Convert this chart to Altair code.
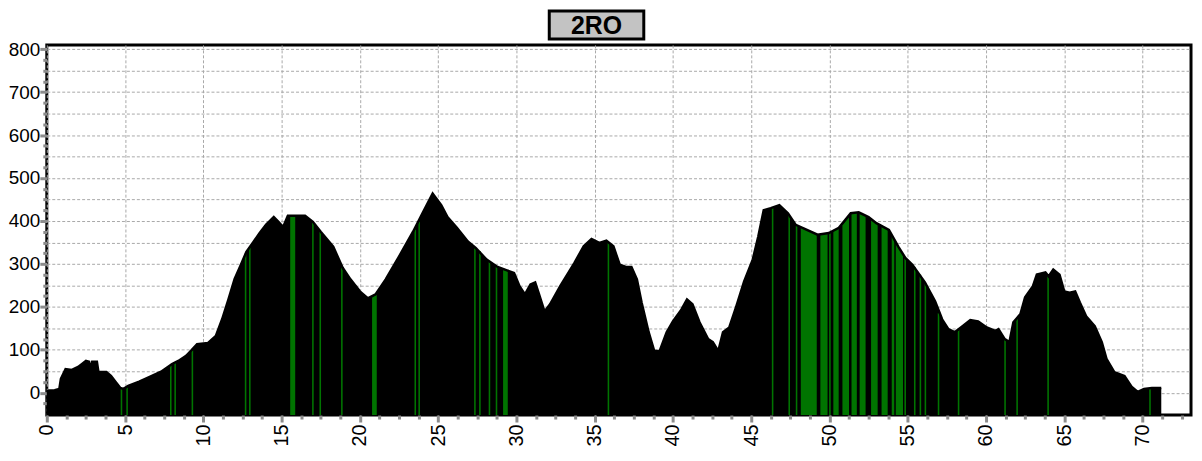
import altair as alt
import pandas as pd

TITLE = "2RO"

# elevation profile (km, m)
prof_km = [0.0, 0.15, 0.5, 0.8, 0.9, 1.2, 1.6, 2.0, 2.25, 2.5, 2.7, 2.8, 2.9, 3.2, 3.3, 3.8, 4.1, 4.4,
           4.7, 4.9, 5.2, 5.9, 6.5, 7.3, 8.0, 8.4, 8.9, 9.25, 9.6, 10.3, 10.8, 11.2, 11.6, 12.0, 12.4,
           12.75, 13.2, 13.6, 14.0, 14.5, 14.8, 15.1, 15.4, 16.5, 17.0, 17.5, 18.3, 18.9, 19.4, 20.0,
           20.5, 21.0, 21.65, 22.5, 23.4, 24.0, 24.65, 25.2, 25.6, 26.2, 26.9, 27.4, 28.1, 28.8, 29.4,
           29.85, 30.2, 30.55, 30.9, 31.2, 31.45, 31.8, 32.15, 32.8, 33.7, 34.3, 34.8, 35.3, 35.75,
           36.2, 36.6, 37.0, 37.35, 37.7, 38.0, 38.45, 38.8, 39.15, 39.6, 40.0, 40.55, 40.9, 41.25,
           41.7, 42.25, 42.55, 42.9, 43.2, 43.6, 44.05, 44.55, 45.1, 45.45, 45.8, 46.25, 46.8, 47.35,
           47.85, 49.24, 49.96, 50.6, 51.36, 51.87, 52.5, 53.0, 53.8, 54.4, 54.85, 55.3, 56.1, 56.75,
           57.2, 57.6, 58.0, 58.5, 59.0, 59.5, 60.05, 60.6, 60.8, 61.2, 61.5, 61.75, 62.2, 62.5, 63.0,
           63.25, 63.8, 64.0, 64.3, 64.7, 65.0, 65.35, 65.7, 66.0, 66.4, 66.95, 67.4, 67.7, 68.2,
           68.85, 69.3, 69.7, 70.1, 70.6, 71.2]
prof_elev = [3, 5, 6, 9, 32, 55, 53, 60, 67, 74, 72, 51, 72, 72, 48, 48, 39, 25,
             11, 9, 16, 26, 36, 49, 67, 74, 86, 99, 113, 116, 132, 171, 217, 265, 298,
             328, 351, 372, 391, 409, 398, 386, 412, 412, 398, 375, 340, 291, 264, 236,
             220, 229, 264, 317, 375, 418, 464, 437, 409, 384, 352, 337, 310, 293, 285,
             279, 248, 229, 252, 257, 229, 189, 206, 248, 302, 341, 358, 349, 354,
             341, 298, 293, 293, 264, 210, 141, 98, 97, 141, 166, 194, 217, 206,
             164, 125, 118, 97, 141, 152, 201, 259, 310, 363, 425, 430, 437, 418,
             391, 368, 372, 384, 418, 420, 409, 395, 379, 340, 314, 298, 257, 213,
             171, 148, 141, 155, 169, 166, 152, 144, 148, 125, 118, 164, 183, 222, 248,
             275, 280, 271, 287, 275, 236, 233, 236, 210, 178, 155, 118, 79, 48,
             39, 14, 2, 9, 11, 11]

# green segments: start km, end km, top at start, top at end
green_x0 = [4.72, 5.08, 7.87, 8.15, 9.25, 12.65, 12.92, 15.55, 16.95, 17.42, 18.8, 20.78, 23.49, 23.74,
            27.3, 27.62, 28.23, 28.68, 29.15, 35.83, 46.32, 47.38, 47.85, 48.17, 49.42, 49.98, 50.25,
            50.83, 51.41, 51.93, 52.66, 53.33, 53.98, 54.24, 54.79, 55.40, 55.76, 56.08, 56.92, 58.2,
            61.17, 61.94, 63.92, 70.43]
green_x1 = [4.82, 5.18, 7.97, 8.25, 9.35, 12.75, 13.02, 15.87, 17.05, 17.52, 18.9, 21.08, 23.59, 23.84,
            27.4, 27.72, 28.33, 28.78, 29.45, 35.93, 46.42, 47.48, 47.95, 49.19, 49.88, 50.08, 50.59,
            51.25, 51.75, 52.31, 53.08, 53.72, 54.14, 54.70, 54.89, 55.50, 55.86, 56.18, 57.02, 58.3,
            61.27, 62.04, 64.02, 70.53]
green_top0 = [10, 14, 64, 70, 99, 325, 338, 410, 398, 376, 292, 222, 380, 398,
              337, 330, 305, 293, 287, 350, 431, 416, 390, 386, 368, 372, 376,
              390, 417, 419, 404, 390, 366, 350, 316, 293, 275, 255, 185, 150,
              124, 172, 272, 10]
green_top1 = [10, 14, 64, 70, 99, 325, 338, 410, 398, 376, 292, 228, 380, 398,
              337, 330, 305, 293, 285, 350, 431, 416, 390, 369, 371, 373, 383,
              410, 420, 413, 394, 380, 356, 323, 316, 293, 275, 255, 185, 150,
              124, 172, 272, 10]

Y_MIN, Y_MAX = -52, 810
X_MIN, X_MAX = 0, 73.1

prof = pd.DataFrame({"km": prof_km, "elev": prof_elev, "base": Y_MIN})
rows = []
for i, (a, b, t0, t1) in enumerate(zip(green_x0, green_x1, green_top0, green_top1)):
    rows.append({"seg": i, "km": a, "elev": t0, "base": Y_MIN})
    rows.append({"seg": i, "km": b, "elev": t1, "base": Y_MIN})
green = pd.DataFrame(rows)

x_ticks = [i * 1.25 for i in range(59)]
y_ticks = [-25 + 25 * i for i in range(34)]

xscale = alt.Scale(domain=[X_MIN, X_MAX], nice=False, zero=False)
yscale = alt.Scale(domain=[Y_MIN, Y_MAX], nice=False, zero=False)

x_axis = alt.Axis(
    values=x_ticks, tickCount=500, title=None,
    labelExpr="datum.value % 5 === 0 ? format(datum.value, 'd') : ''",
    labelAngle=270, labelOverlap=False, labelFlush=False, labelPadding=2,
    tickWidth=3,
    tickSize={"condition": {"test": "datum.value % 5 === 0", "value": 7}, "value": 4},
    gridOpacity={"condition": {"test": "datum.value % 5 === 0", "value": 1}, "value": 0},
)
y_axis = alt.Axis(
    values=y_ticks, tickCount=500, title=None,
    labelExpr="(datum.value % 100 === 0 && datum.value >= 0) ? format(datum.value, 'd') : ''",
    labelOverlap=False, labelFlush=False, labelPadding=0, labelFontSize=19,
    tickWidth=3,
    tickSize={"condition": {"test": "datum.value % 100 === 0", "value": 7}, "value": 4},
    gridOpacity={"condition": {"test": "datum.value % 50 === 0", "value": 1}, "value": 0},
)

base_area = alt.Chart(prof).mark_area(color="black", interpolate="linear").encode(
    x=alt.X("km:Q", scale=xscale, axis=x_axis),
    y=alt.Y("elev:Q", scale=yscale, axis=y_axis, stack=None),
    y2="base:Q",
)

green_area = alt.Chart(green).mark_area(color="#007400", interpolate="linear").encode(
    x="km:Q",
    y=alt.Y("elev:Q", stack=None),
    y2="base:Q",
    detail="seg:N",
)

outline = alt.Chart(prof).mark_line(color="black", strokeWidth=2.5).encode(
    x="km:Q",
    y="elev:Q",
)

tdf = pd.DataFrame({"t": [TITLE]})
title_box = alt.Chart(tdf).mark_rect(fill="#c3c3c3", stroke="black", strokeWidth=3).encode(
    x=alt.value(505), x2=alt.value(600), y=alt.value(-34), y2=alt.value(-6)
)
title_text = alt.Chart(tdf).mark_text(
    font="Liberation Sans", fontSize=25, fontWeight="bold", color="black",
    align="center", baseline="middle"
).encode(text="t:N", x=alt.value(552.5), y=alt.value(-19))

chart = alt.layer(base_area, green_area, outline, title_box, title_text).properties(
    width=1150, height=372,
    padding={"left": 39, "top": 36, "right": 3, "bottom": 30},
    autosize=alt.AutoSizeParams(type="none"),
).configure_view(
    stroke="black", strokeWidth=3
).configure_axis(
    labelFont="Liberation Sans", labelFontSize=20, labelColor="black",
    domain=False, tickColor="#8c8c8c", gridColor="#a8a8a8", gridDash=[3, 2], gridWidth=1,
)

chart.save("out.html", embed_options={"renderer": "svg", "actions": False})
